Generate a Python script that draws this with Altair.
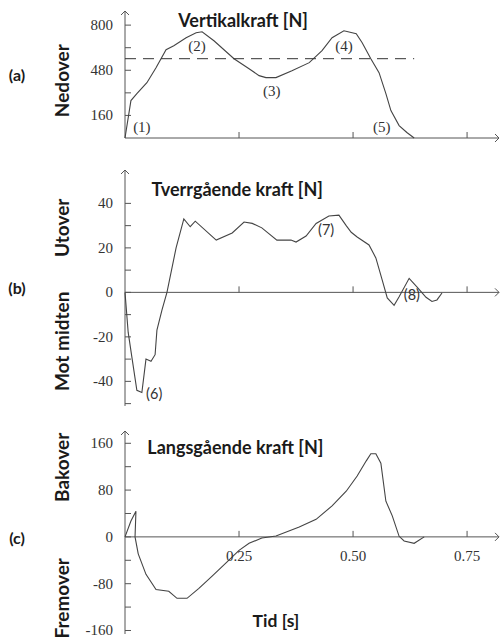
import altair as alt
import pandas as pd

# ---------------- data ----------------
# (a) vertical force [N]
a_t = [0.0, 0.013, 0.026, 0.048, 0.068, 0.090, 0.107, 0.134, 0.156, 0.169, 0.195, 0.239,
       0.272, 0.294, 0.309, 0.331, 0.366, 0.404, 0.432, 0.454, 0.480, 0.507, 0.520, 0.539,
       0.557, 0.572, 0.583, 0.601, 0.618, 0.634]
a_v = [0, 265, 315, 392, 498, 626, 654, 711, 746, 753, 689, 562,
       491, 442, 428, 428, 477, 534, 619, 711, 760, 739, 675, 562,
       463, 315, 194, 88, 39, 0]
a_ref = 562  # dashed reference level (body weight)

# (b) lateral force [N]
b_t = [0.0, 0.007, 0.015, 0.026, 0.037, 0.046, 0.057, 0.066, 0.070, 0.081, 0.092, 0.112,
       0.129, 0.143, 0.154, 0.200, 0.235, 0.261, 0.279, 0.300, 0.333, 0.364, 0.375, 0.397,
       0.419, 0.447, 0.469, 0.485, 0.496, 0.509, 0.535, 0.550, 0.564, 0.575, 0.590, 0.601,
       0.623, 0.640, 0.660, 0.673, 0.684, 0.695]
b_v = [0, -18, -29, -44, -45, -30, -31, -28, -17, -8, 0, 20,
       33, 29.5, 32, 23.5, 26.7, 31.6, 31, 29, 23.5, 23.5, 22.6, 25.3,
       31, 34.3, 34.7, 30, 27, 24.9, 21.3, 15.5, 5.5, -2.5, -5.8, -2,
       6.3, 2.5, -2.2, -4.1, -3.4, -0.3]

# (c) longitudinal force [N]
c_t = [0.0, 0.013, 0.024, 0.022, 0.029, 0.046, 0.068, 0.096, 0.114, 0.136, 0.162, 0.191,
       0.221, 0.250, 0.272, 0.300, 0.331, 0.382, 0.419, 0.454, 0.485, 0.509, 0.529,
       0.539, 0.550, 0.561, 0.572, 0.586, 0.601, 0.612, 0.634, 0.656]
c_v = [0, 27, 44, 0, -29, -64, -90, -93, -105, -105, -88, -67,
       -45, -23, -11, -2, 1.4, 17, 30, 53, 78, 104, 130,
       142, 142, 126, 61, 36, 1, -7, -11, 0]

a_ticks = [160, 320, 480, 640, 800]
a_labels = [160, 480, 800]
b_ticks = [-50, -40, -30, -20, -10, 0, 10, 20, 30, 40]
b_labels = [-40, -20, 0, 20, 40]
c_ticks = [-160, -120, -80, -40, 0, 40, 80, 120, 160]
c_labels = [-160, -80, 0, 80, 160]
x_ticks = [0.25, 0.50, 0.75]
x_tick_labels = ["0.25", "0.50", "0.75"]

a_notes = ["(1)", "(2)", "(3)", "(4)", "(5)"]
a_note_t = [0.037, 0.158, 0.322, 0.480, 0.563]
a_note_v = [81, 654, 336, 654, 81]
b_notes = ["(6)", "(7)", "(8)"]
b_note_t = [0.064, 0.441, 0.629]
b_note_v = [-46, 27.5, -1.6]

AX = "#555555"
LINE = "#444444"
TXT = "#1a1a1a"
LBL = "#333333"
SERIF = "Liberation Serif"
SANS = "Lato"
XMAX = 0.82
W = 374


def X(f, scale=None):
    return alt.X(f, axis=None, scale=scale) if scale is not None else alt.X(f, axis=None)


def Y(f, scale=None):
    return alt.Y(f, axis=None, scale=scale) if scale is not None else alt.Y(f, axis=None)


def panel(t, v, lo, hi, ax_lo, arrow_v, height, ticks, labels, title, title_t, title_v,
          side, notes=None, xlabels=False, extra=None):
    xs = alt.Scale(domain=[0, XMAX], nice=False, zero=False)
    ys = alt.Scale(domain=[lo, hi], nice=False, zero=False)
    px_x = XMAX / W                 # data units per pixel (x)
    px_y = (hi - lo) / height       # data units per pixel (y)
    df = pd.DataFrame({"t": t, "v": v, "i": list(range(len(t)))})
    line = alt.Chart(df).mark_line(color=LINE, strokeWidth=1.1).encode(
        x=X("t:Q", xs), y=Y("v:Q", ys), order=alt.Order("i:Q"))
    yax_df = pd.DataFrame({"x0": [0.0], "y0": [ax_lo], "y1": [arrow_v]})
    yaxis = alt.Chart(yax_df).mark_rule(color=AX, strokeWidth=1).encode(
        x=X("x0:Q"), y=Y("y0:Q"), y2="y1:Q")
    ytk_df = pd.DataFrame({"x0": [0.0] * len(ticks), "x1": [6 * px_x] * len(ticks), "y": ticks})
    ytk = alt.Chart(ytk_df).mark_rule(color=AX, strokeWidth=1).encode(
        x=X("x0:Q"), x2="x1:Q", y=Y("y:Q"))
    ylab_df = pd.DataFrame({"x": [-12 * px_x] * len(labels), "y": labels,
                            "s": [str(l) for l in labels]})
    ylab = alt.Chart(ylab_df).mark_text(
        font=SERIF, fontSize=15, color=LBL, align="right", baseline="middle").encode(
        x=X("x:Q"), y=Y("y:Q"), text="s:N")
    xax_df = pd.DataFrame({"x0": [0.0], "x1": [XMAX], "y": [0.0]})
    xaxis = alt.Chart(xax_df).mark_rule(color=AX, strokeWidth=1).encode(
        x=X("x0:Q"), x2="x1:Q", y=Y("y:Q"))
    xtk_df = pd.DataFrame({"t": x_ticks, "y0": [0.0] * 3, "y1": [6 * px_y] * 3})
    xtk = alt.Chart(xtk_df).mark_rule(color=AX, strokeWidth=1).encode(
        x=X("t:Q"), y=Y("y0:Q"), y2="y1:Q")
    up_df = pd.DataFrame({"x": [0.0], "y": [arrow_v]})
    arr_up = alt.Chart(up_df).mark_point(
        shape="M-1,1L0,0L1,1", size=64, filled=False, color=AX, strokeWidth=1, opacity=1).encode(
        x=X("x:Q"), y=Y("y:Q"))
    rt_df = pd.DataFrame({"x": [XMAX], "y": [0.0]})
    arr_rt = alt.Chart(rt_df).mark_point(
        shape="M-1,-1L0,0L-1,1", size=64, filled=False, color=AX, strokeWidth=1, opacity=1).encode(
        x=X("x:Q"), y=Y("y:Q"))
    ttl = alt.Chart(pd.DataFrame({"t": [title_t], "v": [title_v], "s": [title]})).mark_text(
        font=SANS, fontSize=18, fontWeight="bold", color=TXT, align="center", baseline="middle").encode(
        x=X("t:Q"), y=Y("v:Q"), text="s:N")
    sdf = pd.DataFrame({"v": [s[1] for s in side], "s": [s[0] for s in side],
                        "x": [-62 * px_x] * len(side)})
    sides = alt.Chart(sdf).mark_text(
        font=SANS, fontSize=19, fontWeight="bold", color=TXT, angle=270, align="center",
        baseline="middle").encode(x=X("x:Q"), y=Y("v:Q"), text="s:N")
    layers = [yaxis, ytk, ylab, xaxis, xtk, arr_up, arr_rt, line, ttl, sides]
    if xlabels:
        xl = alt.Chart(pd.DataFrame({"t": x_ticks, "lab": x_tick_labels, "y": [0.0] * 3})).mark_text(
            font=SERIF, fontSize=15, color=LBL, baseline="middle", dy=19).encode(
            x=X("t:Q"), y=Y("y:Q"), text="lab:N")
        layers.append(xl)
    if notes is not None:
        nt, nv, ns, nfont, nsize = notes
        ndf = pd.DataFrame({"t": nt, "v": nv, "s": ns})
        layers.append(alt.Chart(ndf).mark_text(
            font=nfont, fontSize=nsize, color=LBL, baseline="middle").encode(
            x=X("t:Q"), y=Y("v:Q"), text="s:N"))
    if extra is not None:
        for kind, val, txt in extra:
            if kind == "dash":
                ddf = pd.DataFrame({"x0": [0.0], "x1": [0.634], "y": [val]})
                layers.append(alt.Chart(ddf).mark_rule(
                    color="#333333", strokeWidth=1, strokeDash=[11, 7]).encode(
                    x=X("x0:Q"), x2="x1:Q", y=Y("y:Q")))
            elif kind == "tag":
                gdf = pd.DataFrame({"x": [-108 * px_x], "v": [val], "s": [txt]})
                layers.append(alt.Chart(gdf).mark_text(
                    font=SANS, fontSize=16, fontWeight="bold", color=TXT, baseline="middle").encode(
                    x=X("x:Q"), y=Y("v:Q"), text="s:N"))
            elif kind == "xtitle":
                gdf = pd.DataFrame({"x": [0.331], "v": [val], "s": [txt]})
                layers.append(alt.Chart(gdf).mark_text(
                    font=SANS, fontSize=17.5, fontWeight="bold", color=TXT, baseline="middle").encode(
                    x=X("x:Q"), y=Y("v:Q"), text="s:N"))
    return alt.layer(*layers).properties(width=W, height=height)


pa = panel(a_t, a_v, 0, 900, 0, 900, 127, a_ticks, a_labels, "Vertikalkraft [N]", 0.259, 824,
           [("Nedover", 406)], notes=(a_note_t, a_note_v, a_notes, SERIF, 15),
           extra=[("dash", a_ref, ""), ("tag", 442, "(a)")])

pb = panel(b_t, b_v, -53.5, 59.05, -51.05, 55, 250.4, b_ticks, b_labels, "Tverrgående kraft [N]",
           0.246, 45.5, [("Utover", 29), ("Mot midten", -22)],
           notes=(b_note_t, b_note_v, b_notes, SANS, 14.5), extra=[("tag", 1.5, "(b)")])

pc = panel(c_t, c_v, -166, 181, -166, 181, 203, c_ticks, c_labels, "Langsgående kraft [N]", 0.242, 150,
           [("Bakover", 119), ("Fremover", -105)], xlabels=True,
           extra=[("tag", -4, "(c)"), ("xtitle", -146, "Tid [s]")])

chart = alt.vconcat(pa, pb, pc, spacing=17).properties(
    padding={"left": 8, "top": 9, "right": 0, "bottom": 0},
    background="white",
).configure_view(stroke=None)

chart.save("out.html", embed_options={"renderer": "svg", "actions": False})
